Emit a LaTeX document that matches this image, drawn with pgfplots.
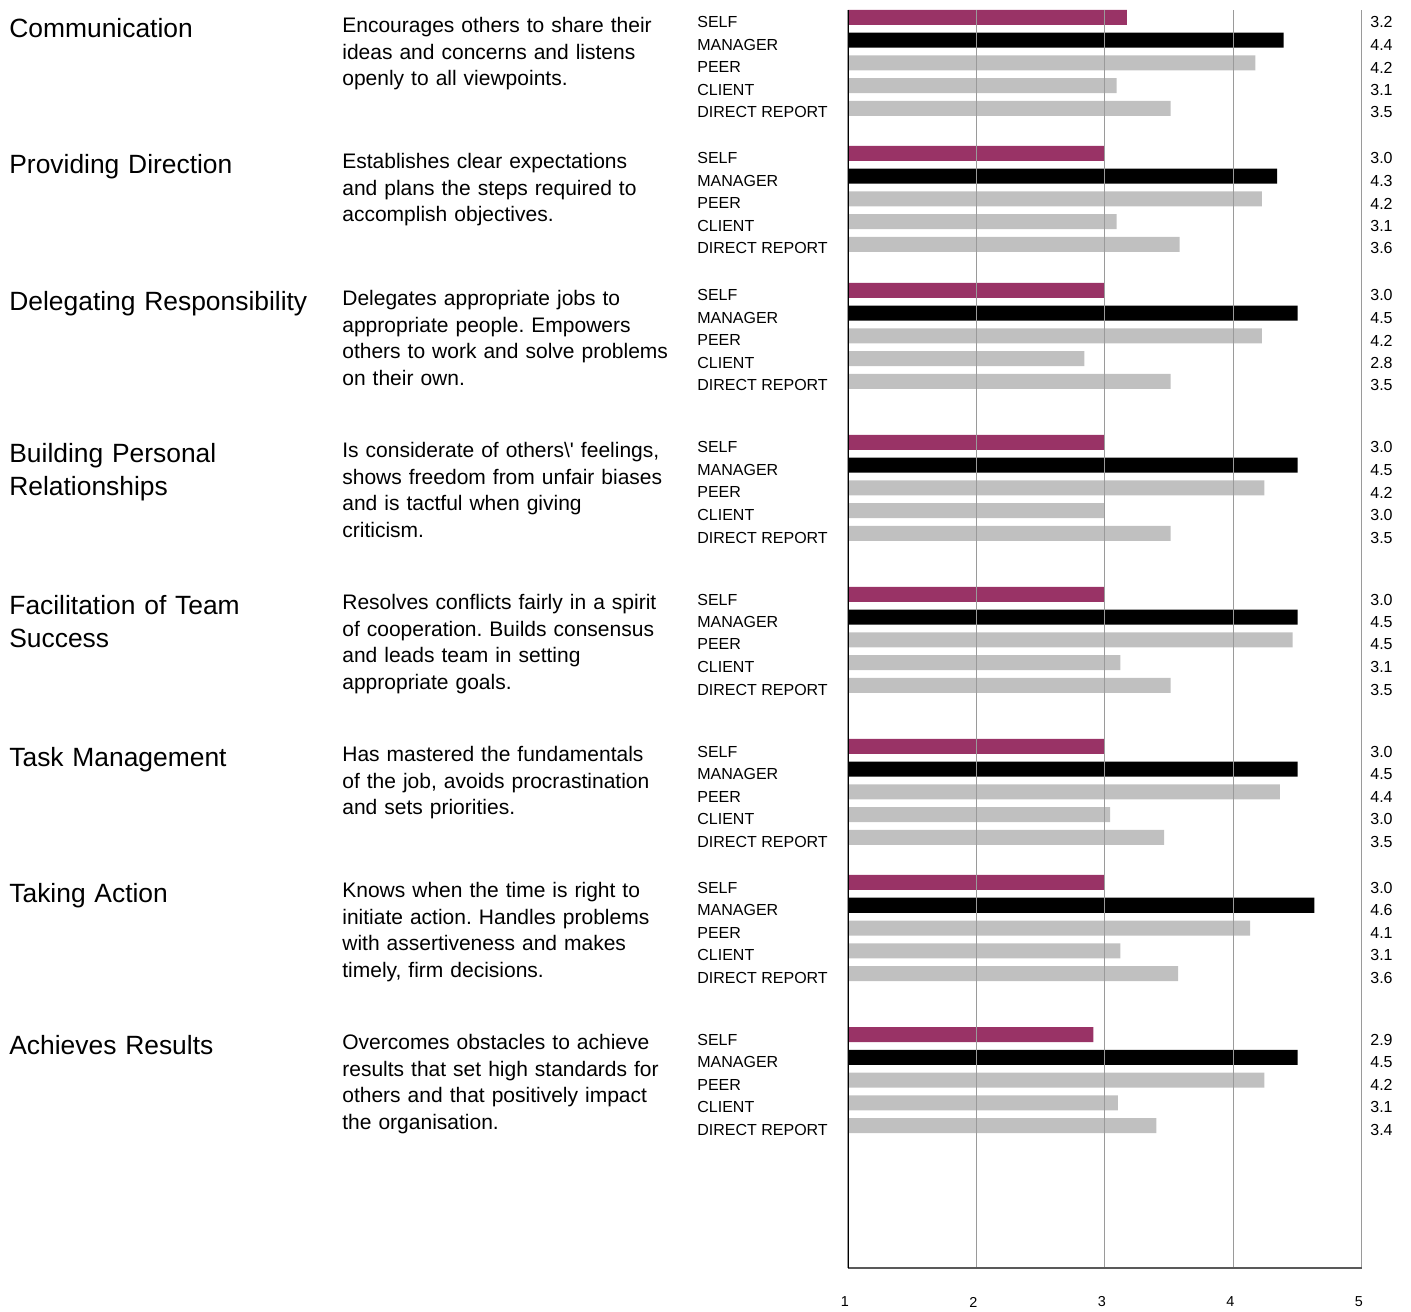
\documentclass[border=0pt]{standalone}
\usepackage{fontspec}
\setmainfont{Liberation Sans}[Ligatures=TeXOff]
\usepackage{pgfplots}
\usepackage{pgfplotstable}
\pgfplotsset{compat=1.18}
\frenchspacing

\definecolor{selfc}{HTML}{993366}
\definecolor{othc}{HTML}{C0C0C0}
\definecolor{gridc}{HTML}{9A9A9A}

% pos = bar centre of SELF, in px from the bottom of the picture
\pgfplotstableread{
pos    self manager peer client direct
1293.5 3.17 4.39 4.17 3.09 3.51
1157.5 3.00 4.34 4.22 3.09 3.58
1020.5 3.00 4.50 4.22 2.84 3.51
868.5  3.00 4.50 4.24 3.00 3.51
716.5  3.00 4.50 4.46 3.12 3.51
564.5  3.00 4.50 4.36 3.04 3.46
428.5  3.00 4.63 4.13 3.12 3.57
276.5  2.91 4.50 4.24 3.10 3.40
}\ratings

\tikzset{
  ttl/.style={anchor=base west, inner sep=0pt, text width=175pt, align=left,
    font=\fontsize{13.2}{16.5}\selectfont, xshift=-419.5pt, yshift=-10pt},
  dsc/.style={anchor=base west, inner sep=0pt, text width=175pt, align=left,
    font=\fontsize{10.5}{13.35}\selectfont, xshift=-253pt, yshift=-7.5pt},
  cat/.style={anchor=west, inner sep=0pt, font=\fontsize{8}{9}\selectfont, xshift=-75.5pt},
  val/.style={anchor=west, inner sep=0pt, font=\fontsize{8}{9}\selectfont, xshift=4pt},
}

\newcommand\grp[8]{%
  \node[ttl] at (axis cs:1,#1) {#2};
  \node[dsc] at (axis cs:1,#1) {#3};
  \node[cat, yshift=-2.5pt] at (axis cs:1,#1) {SELF};
  \node[cat, yshift=-13.75pt] at (axis cs:1,#1) {MANAGER};
  \node[cat, yshift=-25pt] at (axis cs:1,#1) {PEER};
  \node[cat, yshift=-36.25pt] at (axis cs:1,#1) {CLIENT};
  \node[cat, yshift=-47.5pt] at (axis cs:1,#1) {DIRECT REPORT};
  \node[val, yshift=-2.5pt] at (axis cs:5,#1) {#4};
  \node[val, yshift=-13.75pt] at (axis cs:5,#1) {#5};
  \node[val, yshift=-25pt] at (axis cs:5,#1) {#6};
  \node[val, yshift=-36.25pt] at (axis cs:5,#1) {#7};
  \node[val, yshift=-47.5pt] at (axis cs:5,#1) {#8};
}

\begin{document}
\begin{tikzpicture}
\path[use as bounding box] (-424pt,-21.5pt) rectangle (281.5pt,634pt);
\begin{axis}[
  scale only axis, width=257pt, height=629pt,
  xmin=1, xmax=5, ymin=43, ymax=1301,
  axis x line*=bottom, axis y line*=left,
  x axis line style={gray!70!black, line width=0.6pt, -},
  y axis line style={black, -},
  xtick={1,2,3,4,5}, ytick=\empty, major tick length=0pt,
  xmajorgrids, grid style={gridc, line width=0.5pt},
  axis on top, clip mode=individual,
  /pgf/number format/assume math mode=true,
  xticklabel style={font=\fontsize{7.2}{8}\selectfont, anchor=center, yshift=-17pt, xshift=-1.5pt},
  xbar, bar width=15, bar shift=0pt,
]
\addplot[fill=selfc, draw=none] table[x=self, y=pos] {\ratings};
\addplot[fill=black, draw=none] table[x=manager, y expr=\thisrow{pos}-22.75] {\ratings};
\addplot[fill=othc, draw=none] table[x=peer, y expr=\thisrow{pos}-45.5] {\ratings};
\addplot[fill=othc, draw=none] table[x=client, y expr=\thisrow{pos}-68.25] {\ratings};
\addplot[fill=othc, draw=none] table[x=direct, y expr=\thisrow{pos}-91] {\ratings};

\grp{1293.5}{Communication}{Encourages others to share their\\ideas and concerns and listens\\openly to all viewpoints.}{3.2}{4.4}{4.2}{3.1}{3.5}
\grp{1157.5}{Providing Direction}{Establishes clear expectations\\and plans the steps required to\\accomplish objectives.}{3.0}{4.3}{4.2}{3.1}{3.6}
\grp{1020.5}{Delegating Responsibility}{Delegates appropriate jobs to\\appropriate people. Empowers\\others to work and solve problems\\on their own.}{3.0}{4.5}{4.2}{2.8}{3.5}
\grp{868.5}{Building Personal\\Relationships}{Is considerate of others\textbackslash' feelings,\\shows freedom from unfair biases\\and is tactful when giving\\criticism.}{3.0}{4.5}{4.2}{3.0}{3.5}
\grp{716.5}{Facilitation of Team\\Success}{Resolves conflicts fairly in a spirit\\of cooperation. Builds consensus\\and leads team in setting\\appropriate goals.}{3.0}{4.5}{4.5}{3.1}{3.5}
\grp{564.5}{Task Management}{Has mastered the fundamentals\\of the job, avoids procrastination\\and sets priorities.}{3.0}{4.5}{4.4}{3.0}{3.5}
\grp{428.5}{Taking Action}{Knows when the time is right to\\initiate action. Handles problems\\with assertiveness and makes\\timely, firm decisions.}{3.0}{4.6}{4.1}{3.1}{3.6}
\grp{276.5}{Achieves Results}{Overcomes obstacles to achieve\\results that set high standards for\\others and that positively impact\\the organisation.}{2.9}{4.5}{4.2}{3.1}{3.4}
\end{axis}
\end{tikzpicture}
\end{document}
